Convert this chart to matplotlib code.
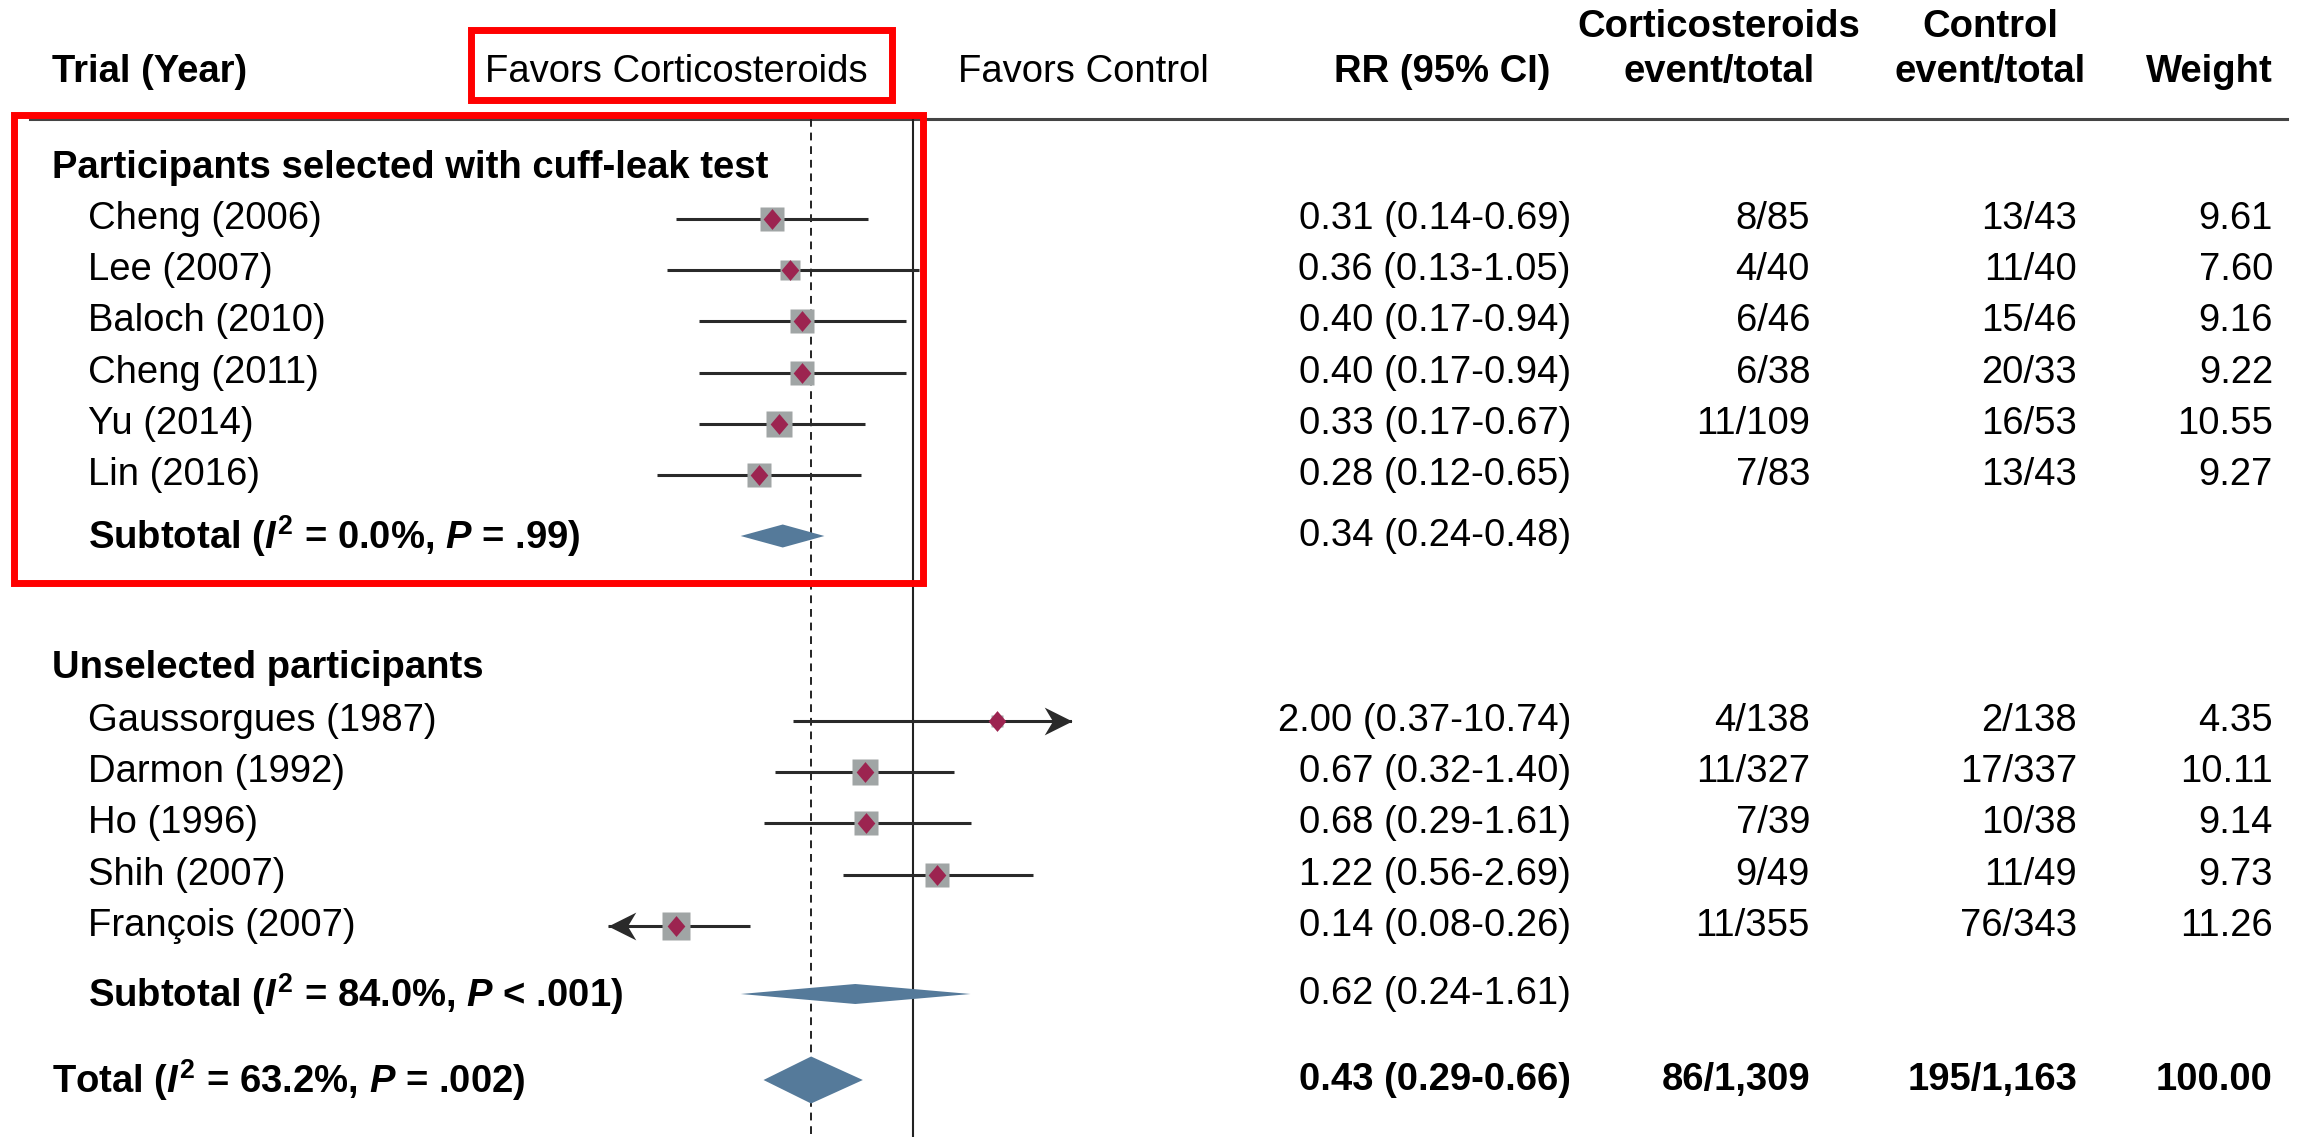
import numpy as np
import matplotlib.pyplot as plt
from matplotlib.patches import Rectangle

plt.rcParams['font.family'] = ['Liberation Sans', 'DejaVu Sans']
plt.rcParams['mathtext.fontset'] = 'custom'
plt.rcParams['mathtext.rm'] = 'Liberation Sans:bold'
plt.rcParams['mathtext.it'] = 'Liberation Sans:italic:bold'
plt.rcParams['mathtext.bf'] = 'Liberation Sans:bold'

# ---- data ----
trials_a = ['Cheng (2006)', 'Lee (2007)', 'Baloch (2010)', 'Cheng (2011)', 'Yu (2014)', 'Lin (2016)']
rr_a = [0.31, 0.36, 0.40, 0.40, 0.33, 0.28]
lo_a = [0.14, 0.13, 0.17, 0.17, 0.17, 0.12]
hi_a = [0.69, 1.05, 0.94, 0.94, 0.67, 0.65]
cort_ev_a = [8, 4, 6, 6, 11, 7]
cort_n_a = [85, 40, 46, 38, 109, 83]
ctrl_ev_a = [13, 11, 15, 20, 16, 13]
ctrl_n_a = [43, 40, 46, 33, 53, 43]
weight_a = [9.61, 7.60, 9.16, 9.22, 10.55, 9.27]

trials_b = ['Gaussorgues (1987)', 'Darmon (1992)', 'Ho (1996)', 'Shih (2007)', 'François (2007)']
rr_b = [2.00, 0.67, 0.68, 1.22, 0.14]
lo_b = [0.37, 0.32, 0.29, 0.56, 0.08]
hi_b = [10.74, 1.40, 1.61, 2.69, 0.26]
cort_ev_b = [4, 11, 7, 9, 11]
cort_n_b = [138, 327, 39, 49, 355]
ctrl_ev_b = [2, 17, 10, 11, 76]
ctrl_n_b = [138, 337, 38, 49, 343]
weight_b = [4.35, 10.11, 9.14, 9.73, 11.26]

sub_a = (0.34, 0.24, 0.48)
sub_b = (0.62, 0.24, 1.61)
total = (0.43, 0.29, 0.66)
sub_a_label = r'Subtotal ($I^2$ = 0.0%, $P$ = .99)'
sub_b_label = r'Subtotal ($I^2$ = 84.0%, $P$ < .001)'
total_label = r'Total ($I^2$ = 63.2%, $P$ = .002)'
total_cort = (86, 1309)
total_ctrl = (195, 1163)
total_weight = 100.00

# ---- layout (pixels) ----
W, H = 2303, 1137
fs = 27.5
y_head = 72
y_sec_a = 168
y_a = 219 + 51.2 * np.arange(len(trials_a))
y_sub_a = 536
y_sec_b = 668
y_b = 721 + 51.2 * np.arange(len(trials_b))
y_sub_b = 994
y_tot = 1080

x_left, x_ind = 52, 88
x_rr, x_cort, x_ctrl, x_w = 1571, 1810, 2077, 2273
xmin, xmax = 0.08, 3.73

sq_col = '#a0a5a5'
dm_col = '#9c2450'
sum_col = '#557a9a'
ci_col = '#2a2a2a'
diamond = [(0, 1), (0.85, 0), (0, -1), (-0.85, 0), (0, 1)]
head_r = [(0, 0), (-2, 1), (-1.4, 0), (-2, -1), (0, 0)]
head_l = [(0, 0), (2, 1), (1.4, 0), (2, -1), (0, 0)]

fig = plt.figure(figsize=(W / 100, H / 100), dpi=100)
ax = fig.add_axes([0, 0, 1, 1])
ax.set_xlim(0, W)
ax.set_ylim(H, 0)
ax.axis('off')

fx = fig.add_axes([608 / W, 0, 464 / W, 1])
fx.set_xscale('log')
fx.set_xlim(xmin, xmax)
fx.set_ylim(H, 0)
fx.axis('off')

# header
ax.text(x_left, y_head, 'Trial (Year)', fontsize=fs, fontweight='bold', va='center')
ax.text(676, y_head, 'Favors Corticosteroids', fontsize=fs, ha='center', va='center')
ax.text(1083, y_head, 'Favors Control', fontsize=fs, ha='center', va='center')
ax.text(1550, y_head, 'RR (95% CI)', fontsize=fs, fontweight='bold', ha='right', va='center')
ax.text(1719, 27, 'Corticosteroids', fontsize=fs, fontweight='bold', ha='center', va='center')
ax.text(1719, y_head, 'event/total', fontsize=fs, fontweight='bold', ha='center', va='center')
ax.text(1990, 27, 'Control', fontsize=fs, fontweight='bold', ha='center', va='center')
ax.text(1990, y_head, 'event/total', fontsize=fs, fontweight='bold', ha='center', va='center')
ax.text(x_w, y_head, 'Weight', fontsize=fs, fontweight='bold', ha='right', va='center')
ax.plot([30, 2287], [119, 119], color='#444444', lw=2.2)

# reference lines
fx.vlines(1, 119, H, color='#222222', lw=1.5)
fx.vlines(total[0], 119, H, color='#222222', lw=1.4, linestyles=(0, (4, 3)))


def study_rows(names, rr, lo, hi, ce, cn, te, tn, w, ys):
    for i in range(len(names)):
        y = ys[i]
        ax.text(x_ind, y, names[i], fontsize=fs, va='center')
        ax.text(x_rr, y, f'{rr[i]:.2f} ({lo[i]:.2f}-{hi[i]:.2f})', fontsize=fs, ha='right', va='center')
        ax.text(x_cort, y, f'{ce[i]}/{cn[i]}', fontsize=fs, ha='right', va='center')
        ax.text(x_ctrl, y, f'{te[i]}/{tn[i]}', fontsize=fs, ha='right', va='center')
        ax.text(x_w, y, f'{w[i]:.2f}', fontsize=fs, ha='right', va='center')
        a = max(lo[i], xmin)
        b = min(hi[i], xmax)
        fx.plot([a, b], [y, y], color=ci_col, lw=2.2, solid_capstyle='butt', zorder=2)
        if hi[i] >= xmax:
            fx.plot(xmax, y, marker=head_r, ms=40, color=ci_col, mec='none', clip_on=False, zorder=2)
        if lo[i] <= xmin:
            fx.plot(xmin, y, marker=head_l, ms=40, color=ci_col, mec='none', clip_on=False, zorder=2)
        side = 2.55 * w[i] * 0.72
        fx.plot(rr[i], y, marker='s', ms=side, color=sq_col, mec='none', zorder=3)
        fx.plot(rr[i], y, marker=diamond, ms=15, color=dm_col, mec='none', zorder=4)


def summary_row(label, est, x, y, h, bold_vals=False):
    ax.text(x, y, label, fontsize=fs, fontweight='bold', va='center')
    ax.text(x_rr, y, f'{est[0]:.2f} ({est[1]:.2f}-{est[2]:.2f})', fontsize=fs,
            fontweight='bold' if bold_vals else 'normal', ha='right', va='center')
    fx.fill([est[1], est[0], est[2], est[0]], [y, y - h / 2, y, y + h / 2],
            color=sum_col, lw=0, zorder=3)


ax.text(x_left, y_sec_a, 'Participants selected with cuff-leak test', fontsize=fs,
        fontweight='bold', va='center')
study_rows(trials_a, rr_a, lo_a, hi_a, cort_ev_a, cort_n_a, ctrl_ev_a, ctrl_n_a, weight_a, y_a)
summary_row(sub_a_label, sub_a, x_ind, y_sub_a, 23)

ax.text(x_left, y_sec_b, 'Unselected participants', fontsize=fs, fontweight='bold', va='center')
study_rows(trials_b, rr_b, lo_b, hi_b, cort_ev_b, cort_n_b, ctrl_ev_b, ctrl_n_b, weight_b, y_b)
summary_row(sub_b_label, sub_b, x_ind, y_sub_b, 20)

summary_row(total_label, total, x_left, y_tot, 47, bold_vals=True)
ax.text(x_cort, y_tot, f'{total_cort[0]:,}/{total_cort[1]:,}', fontsize=fs,
        fontweight='bold', ha='right', va='center')
ax.text(x_ctrl, y_tot, f'{total_ctrl[0]:,}/{total_ctrl[1]:,}', fontsize=fs,
        fontweight='bold', ha='right', va='center')
ax.text(x_w, y_tot, f'{total_weight:.2f}', fontsize=fs, fontweight='bold', ha='right', va='center')

# red highlight boxes
for (x0, y0, x1, y1) in [(471, 30, 892, 100), (14, 115, 923, 583)]:
    fig.add_artist(Rectangle((x0, y0), x1 - x0, y1 - y0, fill=False, edgecolor='#ff0000',
                             lw=5, transform=ax.transData, zorder=10))

fig.savefig('out.png', dpi=100)
